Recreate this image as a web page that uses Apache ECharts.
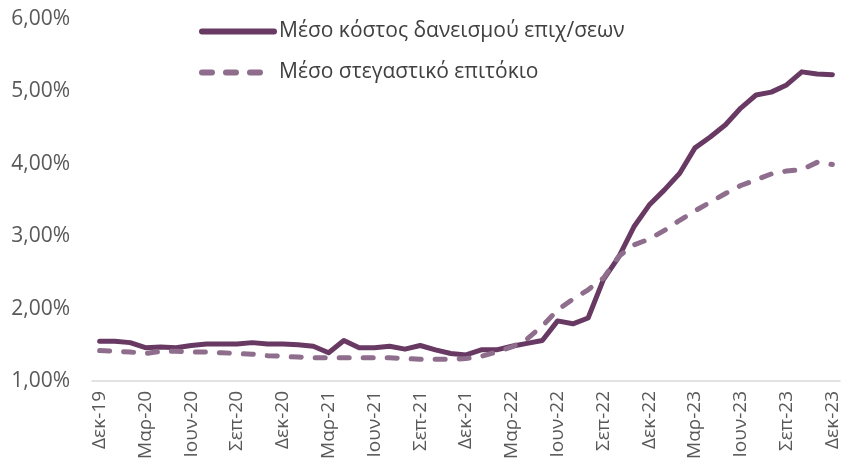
<!DOCTYPE html>
<html>
<head>
<meta charset="utf-8">
<script src="https://cdn.jsdelivr.net/npm/echarts@6/dist/echarts.min.js"></script>
<style>
  html, body { margin: 0; padding: 0; background: #fff; }
  #chart { width: 844px; height: 471px; }
</style>
</head>
<body>
<div id="chart"></div>
<script>
const months = ['Ιαν', 'Φεβ', 'Μαρ', 'Απρ', 'Μαϊ', 'Ιουν', 'Ιουλ', 'Αυγ', 'Σεπ', 'Οκτ', 'Νοε', 'Δεκ']

// Δεκ-19 ... Δεκ-23, monthly
const categories = ['Δεκ-19']
for (let y = 20; y <= 23; y++) {
  months.forEach(m => categories.push(m + '-' + y))
}

const businessRate = [
  1.55, 1.55, 1.53, 1.46, 1.47, 1.46, 1.49, 1.51, 1.51, 1.51, 1.53, 1.51,
  1.51, 1.50, 1.48, 1.39, 1.56, 1.46, 1.46, 1.48, 1.44, 1.49, 1.43, 1.38,
  1.36, 1.43, 1.43, 1.48, 1.52, 1.56, 1.83, 1.79, 1.87, 2.40, 2.71, 3.13,
  3.43, 3.64, 3.87, 4.22, 4.37, 4.54, 4.77, 4.95, 4.99, 5.09, 5.27, 5.24,
  5.23,
]

const mortgageRate = [
  1.42, 1.41, 1.40, 1.38, 1.41, 1.41, 1.40, 1.40, 1.39, 1.38, 1.37, 1.35,
  1.34, 1.33, 1.32, 1.32, 1.32, 1.32, 1.32, 1.32, 1.31, 1.30, 1.30, 1.30,
  1.31, 1.34, 1.40, 1.47, 1.58, 1.76, 1.98, 2.13, 2.26, 2.42, 2.72, 2.88,
  2.96, 3.08, 3.22, 3.35, 3.47, 3.59, 3.70, 3.78, 3.86, 3.90, 3.92, 4.02,
  3.99,
]

const seriesNames = ['Μέσο κόστος δανεισμού επιχ/σεων', 'Μέσο στεγαστικό επιτόκιο']

const FONT = '"Open Sans", "Noto Sans", sans-serif'

const chart = echarts.init(document.getElementById('chart'))

chart.setOption({
  animation: false,
  textStyle: { fontFamily: FONT },
  grid: { left: 92, right: 4, top: 19, bottom: 90 },
  legend: {
    orient: 'vertical',
    left: 194,
    top: 16,
    itemWidth: 72,
    itemHeight: 14,
    itemGap: 20,
    itemStyle: { opacity: 0 },
    lineStyle: { width: 6, cap: 'round' },
    textStyle: { color: '#404040', fontSize: 21, fontFamily: FONT },
    data: seriesNames,
  },
  xAxis: {
    type: 'category',
    data: categories,
    boundaryGap: true,
    axisLine: { lineStyle: { color: '#d9d9d9', width: 1.5 } },
    axisTick: { interval: 2, length: 6, lineStyle: { color: '#d9d9d9', width: 1.5 } },
    axisLabel: {
      interval: 2,
      rotate: 90,
      margin: 10,
      color: '#595959',
      fontSize: 19,
      fontFamily: FONT,
      padding: [6, 0, 0, 0],
    },
  },
  yAxis: {
    type: 'value',
    min: 1,
    max: 6,
    interval: 1,
    axisLine: { show: false },
    axisTick: { show: false },
    splitLine: { show: false },
    axisLabel: {
      margin: 22,
      color: '#595959',
      fontSize: 21,
      fontFamily: FONT,
      formatter: v => v.toFixed(2).replace('.', ',') + '%',
    },
  },
  series: [
    {
      name: seriesNames[0],
      type: 'line',
      data: businessRate,
      symbol: 'none',
      color: '#683a63',
      lineStyle: { color: '#683a63', width: 5, cap: 'round', join: 'round' },
    },
    {
      name: seriesNames[1],
      type: 'line',
      data: mortgageRate,
      symbol: 'none',
      color: '#8f6d8d',
      lineStyle: { color: '#8f6d8d', width: 5, type: [10, 14], cap: 'round', join: 'round' },
    },
  ],
})
</script>
</body>
</html>
